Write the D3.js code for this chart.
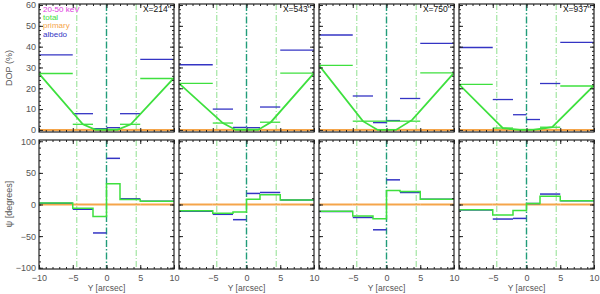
<!DOCTYPE html>
<html><head><meta charset="utf-8">
<script src="https://cdn.jsdelivr.net/npm/d3@7"></script>
<style>
html,body{margin:0;padding:0;background:#fff;}
svg{display:block;}
text{font-family:"Liberation Sans","DejaVu Sans",sans-serif;}
</style></head>
<body>
<svg id="chart" width="600" height="294"></svg>
<script>
// ---------------- data ----------------
const binEdges = [-10, -5, -2, 0, 2, 5, 10];
const panelLabels = ["X=214''", "X=543''", "X=750''", "X=937''"];
const legendTitle = "20-50 keV";
const legendNames = ["total", "primary", "albedo"];

// DOP (%) per bin
const dopTotal1 = [27.1, 2.7, 0.3, 0.3, 2.7, 24.7];
const dopTotal2 = [22.4, 3.3, 0.3, 0.3, 3.7, 27.3];
const dopTotal3 = [31.0, 4.2, 4.2, 4.2, 4.2, 27.4];
const dopTotal4 = [21.9, 0.9, 0.2, 0.2, 1.3, 21.1];
const dopAlbedo1 = [36.1, 7.8, 0.6, 1.1, 7.8, 33.9];
const dopAlbedo2 = [31.3, 10.0, 1.2, 1.1, 11.0, 38.3];
const dopAlbedo3 = [45.6, 16.3, 3.5, 4.5, 15.1, 41.6];
const dopAlbedo4 = [39.6, 14.6, 7.3, 5.0, 22.3, 42.1];
const dopPrimary = [0, 0, 0, 0, 0, 0];

// total DOP curve (thick line)
const curveY1 = [-10, -3.5, -1.6, 1.6, 3.6, 10];
const curveY2 = [-10, -3.5, -1.6, 1.7, 3.6, 10];
const curveY3 = [-10, -3.5, -1.3, 1.4, 3.8, 10];
const curveY4 = [-10, -3.5, -1.0, 1.0, 3.8, 10];
const curveDop1 = [27.1, 2.7, 0, 0, 2.7, 25.0];
const curveDop2 = [22.4, 3.3, 0, 0, 3.7, 27.3];
const curveDop3 = [31.0, 4.2, 0, 0, 4.8, 27.4];
const curveDop4 = [21.9, 0.8, 0, 0, 1.3, 21.4];

// psi (degrees) per bin
const psiTotal1 = [2.5, -6, -19, 33, 8, 5];
const psiTotal2 = [-10, -14, -12, 8.5, 15.5, 7];
const psiTotal3 = [-10.5, -18, -22.5, 22, 20.5, 8.5];
const psiTotal4 = [-8.3, -16.5, -9.5, 1.5, 13, 6];
const psiAlbedo1 = [2, -7.5, -45, 73, 9, 5];
const psiAlbedo2 = [-10.5, -15.5, -24, 17.5, 19, 7];
const psiAlbedo3 = [-11, -20.5, -40, 39, 19, 8.5];
const psiAlbedo4 = [-8.8, -23, -22, 1.5, 16.5, 6];
const psiPrimary = [0, 0, 0, 0, 0, 0];

const sideLines = [-4.4, 4.4];
const centerLine = [0];

const xTicks = [-10, -5, 0, 5, 10];
const dopTicks = [0, 10, 20, 30, 40, 50, 60];
const psiTicks = [-100, -50, 0, 50, 100];

// ---------------- layout ----------------
const dopTotals = [dopTotal1, dopTotal2, dopTotal3, dopTotal4];
const dopAlbedos = [dopAlbedo1, dopAlbedo2, dopAlbedo3, dopAlbedo4];
const curveYs = [curveY1, curveY2, curveY3, curveY4];
const curveDops = [curveDop1, curveDop2, curveDop3, curveDop4];
const psiTotals = [psiTotal1, psiTotal2, psiTotal3, psiTotal4];
const psiAlbedos = [psiAlbedo1, psiAlbedo2, psiAlbedo3, psiAlbedo4];

const panelLeft = [39, 179, 319, 459];
const panelW = 135;
const topY0 = 4, topY1 = 132;
const botY0 = 140, botY1 = 269;

const C = {
  total: "#3ee03e", primary: "#f5a54a", albedo: "#3434c4",
  center: "#229d7a", side: "#8fe08f", title: "#e040e0",
  frame: "#222", label: "#555"
};

const svg = d3.select("#chart");

function bins(vals) {
  return vals.map((v, i) => ({x0: binEdges[i], x1: binEdges[i + 1], v}));
}

function drawFrame(g, x, y, yTicksMajor, yMinorStep, showY, showX, firstPanel) {
  const [x0, x1] = x.range();
  const [yb, yt] = y.range();
  const xMinor = d3.range(-10, 10.01, 1);
  const ydom = y.domain();
  const yMinor = d3.range(Math.ceil(ydom[0] / yMinorStep) * yMinorStep, ydom[1] + 1e-6, yMinorStep);
  const mk = (axisFn, scale, vals, size) => axisFn(scale).tickValues(vals).tickSize(size).tickFormat("");
  g.append("g").attr("transform", `translate(0,${yb})`).call(mk(d3.axisBottom, x, xMinor, -2));
  g.append("g").attr("transform", `translate(0,${yb})`).call(mk(d3.axisBottom, x, xTicks, -4));
  g.append("g").attr("transform", `translate(0,${yt})`).call(mk(d3.axisTop, x, xMinor, -2));
  g.append("g").attr("transform", `translate(0,${yt})`).call(mk(d3.axisTop, x, xTicks, -4));
  g.append("g").attr("transform", `translate(${x0},0)`).call(mk(d3.axisLeft, y, yMinor, -2));
  g.append("g").attr("transform", `translate(${x0},0)`).call(mk(d3.axisLeft, y, yTicksMajor, -4));
  g.append("g").attr("transform", `translate(${x1},0)`).call(mk(d3.axisRight, y, yMinor, -2));
  g.append("g").attr("transform", `translate(${x1},0)`).call(mk(d3.axisRight, y, yTicksMajor, -4));
  g.selectAll(".domain").remove();
  g.selectAll(".tick line").attr("stroke", C.frame).attr("stroke-width", 1);
  g.append("rect").attr("x", x0).attr("y", yt).attr("width", x1 - x0).attr("height", yb - yt)
    .attr("fill", "none").attr("stroke", C.frame).attr("stroke-width", 1.2);
  if (showY) {
    const ay = g.append("g").attr("transform", `translate(${x0},0)`)
      .call(d3.axisLeft(y).tickValues(yTicksMajor).tickSize(0).tickPadding(3)
        .tickFormat(d => d < 0 ? "\u2212" + Math.abs(d) : d));
    ay.select(".domain").remove();
    ay.selectAll("text").attr("fill", C.label).style("font-size", "9px");
  }
  if (showX) {
    const vals = firstPanel ? xTicks : xTicks.slice(1);
    const ax = g.append("g").attr("transform", `translate(0,${yb})`)
      .call(d3.axisBottom(x).tickValues(vals).tickSize(0).tickPadding(6)
        .tickFormat(d => d < 0 ? "\u2212" + Math.abs(d) : d));
    ax.select(".domain").remove();
    ax.selectAll("text").attr("fill", C.label).style("font-size", "9px");
  }
}

function vlines(g, x, y) {
  const [yb, yt] = y.range();
  g.selectAll(null).data(sideLines).enter().append("line")
    .attr("x1", d => x(d)).attr("x2", d => x(d)).attr("y1", yt).attr("y2", yb)
    .attr("stroke", C.side).attr("stroke-width", 1).attr("stroke-dasharray", "6,2,1,2");
  g.selectAll(null).data(centerLine).enter().append("line")
    .attr("x1", d => x(d)).attr("x2", d => x(d)).attr("y1", yt).attr("y2", yb)
    .attr("stroke", C.center).attr("stroke-width", 1.4).attr("stroke-dasharray", "7,2,1.5,2");
}

function segs(g, x, y, vals, color, w) {
  g.selectAll(null).data(bins(vals)).enter().append("line")
    .attr("x1", d => x(d.x0)).attr("x2", d => x(d.x1))
    .attr("y1", d => y(d.v)).attr("y2", d => y(d.v))
    .attr("stroke", color).attr("stroke-width", w);
}

function steps(g, x, y, vals, color, w) {
  const pts = [];
  bins(vals).forEach(d => { pts.push([d.x0, d.v]); pts.push([d.x1, d.v]); });
  g.append("path").datum(pts)
    .attr("d", d3.line().x(d => x(d[0])).y(d => y(d[1])))
    .attr("fill", "none").attr("stroke", color).attr("stroke-width", w);
}

for (let p = 0; p < 4; p++) {
  const x = d3.scaleLinear().domain([-10, 10]).range([panelLeft[p], panelLeft[p] + panelW]);
  const yTop = d3.scaleLinear().domain([-1, 60.5]).range([topY1, topY0]);
  const yBot = d3.scaleLinear().domain([-102, 102]).range([botY1, botY0]);

  // ---- top: DOP ----
  const gt = svg.append("g");
  const clipId = "clipT" + p;
  svg.append("clipPath").attr("id", clipId).append("rect")
    .attr("x", panelLeft[p]).attr("y", topY0).attr("width", panelW).attr("height", topY1 - topY0);
  const pt = gt.append("g").attr("clip-path", `url(#${clipId})`);
  vlines(pt, x, yTop);
  segs(pt, x, yTop, dopPrimary, C.primary, 2);
  segs(pt, x, yTop, dopAlbedos[p], C.albedo, 1.3);
  segs(pt, x, yTop, dopTotals[p], C.total, 1.3);
  pt.append("path").datum(curveYs[p].map((v, i) => [v, curveDops[p][i]]))
    .attr("d", d3.line().x(d => x(d[0])).y(d => yTop(d[1])))
    .attr("fill", "none").attr("stroke", C.total).attr("stroke-width", 1.8);
  drawFrame(gt, x, yTop, dopTicks, 2, p === 0, false, p === 0);
  gt.append("text").attr("x", panelLeft[p] + panelW - 3).attr("y", 12)
    .attr("text-anchor", "end").style("font-size", "8.5px").attr("fill", "#111")
    .text(panelLabels[p]);

  // ---- bottom: psi ----
  const gb = svg.append("g");
  const clipB = "clipB" + p;
  svg.append("clipPath").attr("id", clipB).append("rect")
    .attr("x", panelLeft[p]).attr("y", botY0).attr("width", panelW).attr("height", botY1 - botY0);
  const pb = gb.append("g").attr("clip-path", `url(#${clipB})`);
  vlines(pb, x, yBot);
  segs(pb, x, yBot, psiPrimary, C.primary, 2);
  segs(pb, x, yBot, psiAlbedos[p], C.albedo, 1.5);
  steps(pb, x, yBot, psiTotals[p], C.total, 1.5);
  drawFrame(gb, x, yBot, psiTicks, 10, p === 0, true, p === 0);

  gb.append("text").attr("x", panelLeft[p] + panelW / 2).attr("y", 291)
    .attr("text-anchor", "middle").style("font-size", "8.5px").attr("fill", C.label)
    .text("Y [arcsec]");
}

// y axis titles
svg.append("text").attr("transform", "translate(12,68) rotate(-90)")
  .attr("text-anchor", "middle").style("font-size", "9px").attr("fill", C.label).text("DOP (%)");
svg.append("text").attr("transform", "translate(12,204) rotate(-90)")
  .attr("text-anchor", "middle").style("font-size", "9px").attr("fill", C.label).text("\u03c8 [degrees]");

// legend
const lg = svg.append("g");
lg.append("text").attr("x", 43).attr("y", 11.5).style("font-size", "8px").attr("fill", C.title).text(legendTitle);
const legendColors = [C.total, C.primary, C.albedo];
lg.selectAll(null).data(legendNames).enter().append("text")
  .attr("x", 43).attr("y", (d, i) => 19.5 + i * 8.6)
  .style("font-size", "8px").attr("fill", (d, i) => legendColors[i]).text(d => d);
</script>
</body></html>
